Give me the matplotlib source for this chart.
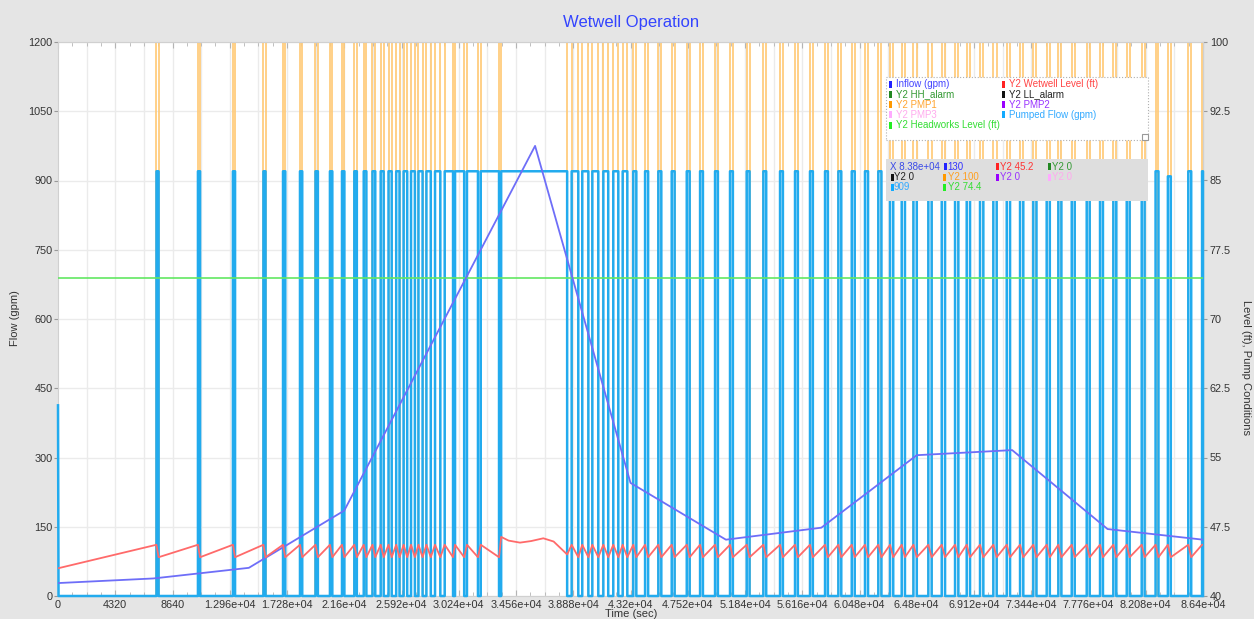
import numpy as np
import matplotlib.pyplot as plt
from matplotlib.patches import Rectangle
from matplotlib.ticker import FixedLocator, FixedFormatter, MultipleLocator

plt.rcParams['font.family'] = ['Liberation Sans', 'DejaVu Sans']

W, H = 1254, 619

# ---- data -------------------------------------------------------------
# inflow hydrograph (gpm)
inflow_t = [0, 7200, 14400, 21600, 36000, 43200, 50400, 57600, 64800, 72000, 79200, 86400]
inflow_q = [28, 38, 61, 185, 975, 245, 122, 148, 305, 316, 145, 122]

# pump 1 run periods (sec): start / stop
pump_on = [7430, 10560, 13200, 15500, 16980, 18260, 19430, 20520, 21430,
           22360, 23070, 23730, 24350, 24940, 25520, 26080, 26640, 27200,
           27800, 28450, 29180, 29960, 30860, 31900, 33440,
           38760, 39560, 40320, 41150, 41900, 42610,
           43410, 44300, 45300, 46310, 47445, 48450, 49580, 50710, 51970,
           53225, 54485, 55615, 56745, 57880, 58885, 59895, 60895, 61900,
           62785, 63665, 64550, 65675, 66685, 67690, 68570, 69575, 70580,
           71590, 72595, 73595, 74605, 75485, 76495, 77625, 78630, 79635,
           80645, 81775, 82820, 83750, 85290, 86330]
pump_off = [7590, 10720, 13360, 15660, 17150, 18430, 19610, 20700, 21610,
            22550, 23270, 23940, 24575, 25180, 25770, 26350, 26930, 27510,
            28130, 28850, 29810, 30650, 31690, 33280, 38420,
            39260, 40020, 40770, 41520, 42280, 42960,
            43640, 44530, 45525, 46530, 47665, 48665, 49795, 50925, 52185,
            53440, 54700, 55830, 56960, 58095, 59105, 60120, 61125, 62135,
            63025, 63910, 64800, 65925, 66935, 67940, 68820, 69825, 70830,
            71840, 72840, 73835, 74840, 75715, 76720, 77850, 78850, 79855,
            80865, 81995, 83040, 83970, 85510, 86400]
pump_rate = 920                 # gpm while running
pump_rate_at = {83750: 909}     # runs with a different reading
start_t = [0, 40]               # start-up transient of pumped flow
start_q = [413, 0]

# wetwell level (ft)
ww_initial = 43.0
ww_start_lvl = 45.55            # pump start level
ww_stop_lvl = 44.2              # pump stop level
run_t = [33440, 34000, 34860, 35700, 36620, 37400, 38420]   # long run at peak
run_lvl = [46.4, 46.0, 45.78, 45.95, 46.25, 45.9, 44.5]

headworks_lvl = 74.4
tip_x = 83800

left_ticks = [0, 150, 300, 450, 600, 750, 900, 1050, 1200]
right_ticks = [40, 47.5, 55, 62.5, 70, 77.5, 85, 92.5, 100]
right_labels = ['40', '47.5', '55', '62.5', '70', '77.5', '85', '92.5', '100']
x_ticks = [0, 4320, 8640, 12960, 17280, 21600, 25920, 30240, 34560, 38880, 43200,
           47520, 51840, 56160, 60480, 64800, 69120, 73440, 77760, 82080, 86400]
x_tick_labels = ['0', '4320', '8640', '1.296e+04', '1.728e+04', '2.16e+04', '2.592e+04',
                 '3.024e+04', '3.456e+04', '3.888e+04', '4.32e+04', '4.752e+04',
                 '5.184e+04', '5.616e+04', '6.048e+04', '6.48e+04', '6.912e+04',
                 '7.344e+04', '7.776e+04', '8.208e+04', '8.64e+04']


def lvl_to_q(v):
    return (np.asarray(v, dtype=float) - 40.0) * 20.0


def q_to_lvl(v):
    return np.asarray(v, dtype=float) / 20.0 + 40.0


# ---- series -------------------------------------------------------------
pf_t, pf_q = list(start_t), list(start_q)
p1_t, p1_v = [0], [0]
ww_t, ww_l = [0], [ww_initial]
for on, off in zip(pump_on, pump_off):
    q = pump_rate_at.get(on, pump_rate)
    pf_t += [on, on, off, off]
    pf_q += [0, q, q, 0]
    p1_t += [on, on, off, off]
    p1_v += [0, 100, 100, 0]
    if on == run_t[0]:
        ww_t += run_t
        ww_l += run_lvl
    elif off >= 86400:
        ww_t.append(on)
        ww_l.append(ww_start_lvl)
    else:
        ww_t += [on, off]
        ww_l += [ww_start_lvl, ww_stop_lvl]

# ---- figure -------------------------------------------------------------
fig = plt.figure(figsize=(W / 100, H / 100), dpi=100, facecolor='#e5e5e5')
ax = fig.add_axes([58 / W, 1 - 596 / H, (1203 - 58) / W, (596 - 42) / H])
ax.set_facecolor('white')
ax.set_xlim(0, 86400)
ax.set_ylim(0, 1200)

ax.vlines(np.arange(2160, 86400, 2160), 0, 1200, color='#ebebeb', lw=1, zorder=0)
ax.yaxis.set_major_locator(FixedLocator(left_ticks))
ax.grid(axis='y', color='#ebebeb', lw=1, zorder=0)
ax.set_axisbelow(True)

ax.xaxis.set_major_locator(FixedLocator(x_ticks))
ax.xaxis.set_major_formatter(FixedFormatter(x_tick_labels))
ax.xaxis.set_minor_locator(MultipleLocator(1080))
ax.tick_params(axis='x', which='both', direction='in', top=True, color='#b4b4b4',
               labelsize=7.8, labelcolor='#333333', pad=3)
ax.tick_params(axis='x', which='major', length=4)
ax.tick_params(axis='x', which='minor', length=3)
ax.tick_params(axis='y', direction='out', length=3, color='#999999',
               labelsize=7.8, labelcolor='#333333', pad=1)
for s in ax.spines.values():
    s.set_color('#d0d0d0')

sec = ax.secondary_yaxis('right', functions=(q_to_lvl, lvl_to_q))
sec.set_yticks(right_ticks)
sec.set_yticklabels(right_labels)
sec.tick_params(direction='out', length=3, color='#999999', labelsize=7.8,
                labelcolor='#333333', pad=2)
sec.spines['right'].set_color('#d0d0d0')

# alarms and idle pumps sit at 0 (below the level scale)
for c in ['#339933', '#222222', '#9933ff', '#ffaaff']:
    ax.plot([0, 86400], lvl_to_q([0, 0]), color=c, lw=1)

ax.plot(p1_t, lvl_to_q(p1_v), color='#ffcb7a', lw=1.4, alpha=0.9, zorder=2)
ax.plot(pf_t, pf_q, color='#22abee', lw=1.8, zorder=3, clip_on=False)
ax.plot([0, 86400], lvl_to_q([headworks_lvl, headworks_lvl]), color='#62e862', lw=1.2, zorder=4)
ax.plot(inflow_t, inflow_q, color='#6e6ef8', lw=1.3, zorder=5)
ax.plot(ww_t, lvl_to_q(ww_l), color='#ff6a6a', lw=1.3, zorder=5)

# ---- texts ----------------------------------------------------------------


def fx(px):
    return px / W


def fy(py):
    return 1 - py / H


fig.text(fx(631), fy(22), 'Wetwell Operation', color='#3344ff', fontsize=12,
         ha='center', va='center')
fig.text(fx(15), fy(318), 'Flow (gpm)', rotation=90, fontsize=8, color='#333333',
         ha='center', va='center')
fig.text(fx(1246), fy(368), 'Level (ft), Pump Conditions', rotation=270, fontsize=8,
         color='#333333', ha='center', va='center')
fig.text(fx(631), fy(614), 'Time (sec)', fontsize=8, color='#333333',
         ha='center', va='center')


def swatch(px, py, color):
    fig.add_artist(Rectangle((fx(px), fy(py + 3.5)), 3 / W, 7 / H, transform=fig.transFigure,
                             facecolor=color, edgecolor='none', zorder=11))


def label(px, py, text, color):
    fig.text(fx(px), fy(py), text, fontsize=7, color=color, ha='left', va='center', zorder=11)


# legend
fig.add_artist(Rectangle((fx(886), fy(140)), (1148 - 886) / W, (140 - 77) / H,
                         transform=fig.transFigure, facecolor='white', edgecolor='#b0b0b0',
                         linestyle=':', lw=0.8, zorder=10))
fig.add_artist(Rectangle((fx(1142), fy(140)), 6 / W, 6 / H, transform=fig.transFigure,
                         facecolor='white', edgecolor='#999999', lw=0.8, zorder=11))
legend_rows = [84, 94.3, 104.6, 114.9, 125.2]
legend_left = [('Inflow (gpm)', '#2222ff', '#4444ff'),
               ('Y2 HH_alarm', '#228822', '#339933'),
               ('Y2 PMP1', '#ff9900', '#ffa530'),
               ('Y2 PMP3', '#ffaaff', '#ffaaee'),
               ('Y2 Headworks Level (ft)', '#22ee22', '#33dd33')]
legend_right = [('Y2 Wetwell Level (ft)', '#ff2222', '#ff4444'),
                ('Y2 LL_alarm', '#111111', '#222222'),
                ('Y2 PMP2', '#9900ff', '#9933ff'),
                ('Pumped Flow (gpm)', '#11aaff', '#33aaff')]
for row, (txt, mc, tc) in zip(legend_rows, legend_left):
    swatch(889, row, mc)
    label(896, row, txt, tc)
for row, (txt, mc, tc) in zip(legend_rows, legend_right):
    swatch(1002, row, mc)
    label(1009, row, txt, tc)

# cursor readout at tip_x
tip_inflow = np.interp(tip_x, inflow_t, inflow_q)
tip_ww = np.interp(tip_x, ww_t, ww_l)
tip_p1 = np.interp(tip_x, p1_t, p1_v)
tip_pf = np.interp(tip_x, pf_t, pf_q)

fig.add_artist(Rectangle((fx(886), fy(201)), (1148 - 886) / W, (201 - 159) / H,
                         transform=fig.transFigure, facecolor='#dedede', edgecolor='none',
                         zorder=10))
r1, r2, r3 = 166.5, 177, 187.5
label(890, r1, f'X {tip_x:.3g}', '#3a4ae8')
swatch(943.5, r1, '#2222ff')
label(947.5, r1, f'{tip_inflow:.0f}', '#3333ff')
swatch(995.5, r1, '#ff2222')
label(999.5, r1, f'Y2 {tip_ww:.1f}', '#ff3333')
swatch(1048, r1, '#228822')
label(1051.5, r1, 'Y2 0', '#339933')
swatch(890.5, r2, '#111111')
label(894, r2, 'Y2 0', '#222222')
swatch(943, r2, '#ff9900')
label(948.5, r2, f'Y2 {tip_p1:.0f}', '#ffa020')
swatch(995.5, r2, '#9900ff')
label(1000, r2, 'Y2 0', '#9933ff')
swatch(1048, r2, '#ffaaff')
label(1052, r2, 'Y2 0', '#ffaaee')
swatch(890.5, r3, '#11aaff')
label(894, r3, f'{tip_pf:.0f}', '#33aaff')
swatch(943, r3, '#22ee22')
label(948.5, r3, f'Y2 {headworks_lvl:.1f}', '#33dd33')

fig.savefig('out.png', dpi=100, facecolor=fig.get_facecolor())
